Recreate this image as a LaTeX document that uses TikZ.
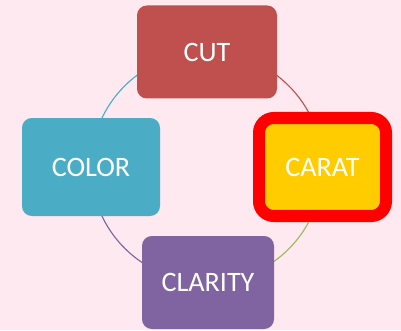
\documentclass[tikz,border=0pt]{standalone}
\usepackage{fontspec}
\setmainfont{Carlito}
\usetikzlibrary{backgrounds}

\definecolor{cutred}{HTML}{C0504D}
\definecolor{colorblue}{HTML}{4BACC6}
\definecolor{claritypurple}{HTML}{8064A2}
\definecolor{caratyellow}{HTML}{FFCC00}
\definecolor{caratgreen}{HTML}{9BBB59}
\definecolor{bgpink}{HTML}{FDE9EF}

\tikzset{
    gembox/.style={rounded corners=7pt, inner sep=0pt, text=white,
        font=\fontsize{20}{24}\selectfont},
    ring/.style={line width=0.8pt}
}

\begin{document}
\begin{tikzpicture}[x=0.025cm, y=0.025cm]
        \useasboundingbox (0,0) rectangle (401,330);

        % 1. The four boxes round the cycle
        \node[gembox, fill=cutred, minimum width=140*0.025cm, minimum height=93*0.025cm]
            (cut) at (207,278) {CUT};
        \node[gembox, fill=caratyellow, draw=red, line width=0.3cm, rounded corners=10.5pt,
            minimum width=127*0.025cm, minimum height=98*0.025cm]
            (carat) at (322.5,163) {CARAT};
        \node[gembox, fill=claritypurple, minimum width=132*0.025cm, minimum height=93*0.025cm]
            (clarity) at (208,47.5) {CLARITY};
        \node[gembox, fill=colorblue, minimum width=138*0.025cm, minimum height=98*0.025cm]
            (color) at (91,163) {COLOR};

        % 2. Background and the arcs of the cycle, behind the boxes
        \begin{scope}[on background layer]
            \fill[bgpink] (0,0) rectangle (401,330);
            \draw[ring, cutred] (cut.center) to[out=0, in=90] (carat.center);
            \draw[ring, caratgreen] (carat.center) to[out=-90, in=0] (clarity.center);
            \draw[ring, claritypurple] (clarity.center) to[out=180, in=-90] (color.center);
            \draw[ring, colorblue] (color.center) to[out=90, in=180] (cut.center);
        \end{scope}
\end{tikzpicture}
\end{document}
